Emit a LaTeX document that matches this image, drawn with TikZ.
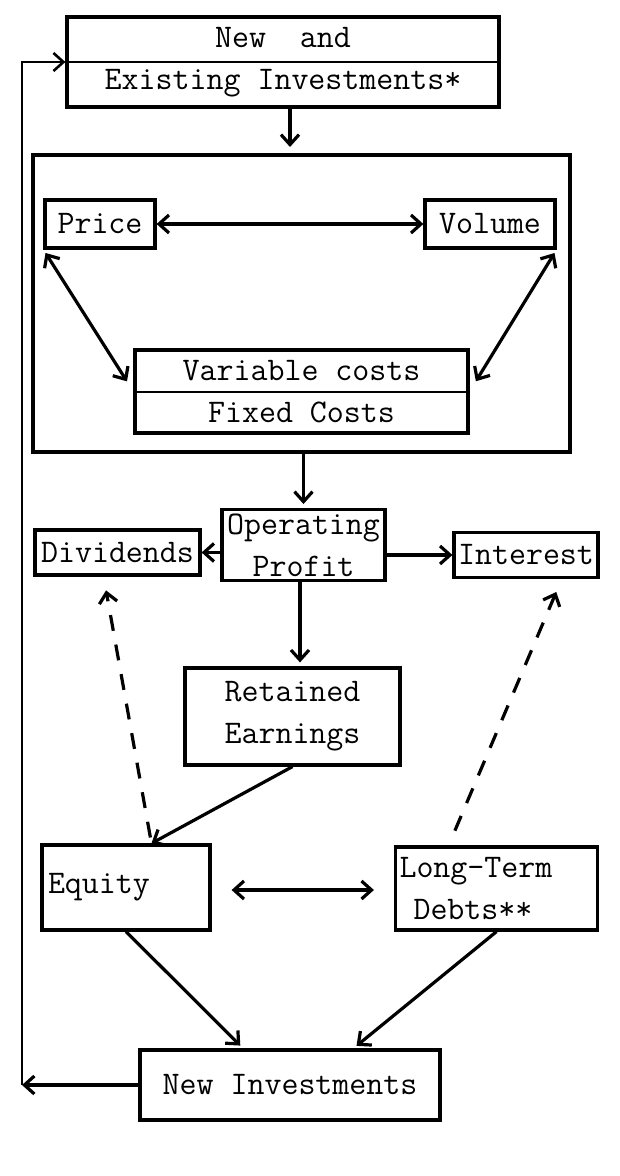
\documentclass[tikz,border=0pt]{standalone}
\usepackage{tikz}
\usetikzlibrary{arrows.meta}

\begin{document}
\begin{tikzpicture}[x=0.5pt,y=-0.5pt,line width=1.6pt,
  >={Straight Barb[length=5pt,width=9pt]},
  box/.style={draw,inner sep=2pt,font=\fontsize{16.5}{21}\selectfont\ttfamily},
  darr/.style={->,dash pattern=on 8pt off 7pt}]
\useasboundingbox (0,0) rectangle (620,1176);
% investimenti in alto
\node[box,minimum width=216pt,minimum height=45pt,align=center] (top) at (283,62) {New\ \ and\\Existing Investments*};
\draw[line width=1pt] (top.west) -- (top.east);
% blocco esterno
\node[box,minimum width=268.5pt,minimum height=148.5pt] (market) at (301.5,303.5) {};
\draw[->] (top.south -| 290,0) -- (290,147);
% prezzo e volume
\node[box,minimum width=55pt,minimum height=24pt] (price) at (100,224) {Price};
\node[box,minimum width=65pt,minimum height=24pt] (volume) at (490,224) {Volume};
\draw[<->] (price) -- (volume);
% costi
\node[box,minimum width=166.5pt,minimum height=41.5pt,align=center] (costs) at (301.5,391.5) {Variable costs\\Fixed Costs};
\draw[line width=1pt] (costs.west) -- (costs.east);
\draw[<->,shorten <=2pt,shorten >=6pt] (price.south west) -- (costs.west);
\draw[<->,shorten <=2pt,shorten >=6pt] (volume.south east) -- (costs.east);
% utile operativo
\node[box,minimum width=81.5pt,minimum height=35pt,align=center] (profit) at (303.5,545) {Operating\\Profit};
\draw[->,shorten >=2pt] (market.south -| profit) -- (profit.north);
% dividendi e interessi
\node[box,minimum width=82.5pt,minimum height=22.5pt] (dividends) at (117.5,552.5) {Dividends};
\node[box,minimum width=71.5pt,minimum height=22.5pt] (interest) at (526,555) {Interest};
\draw[->] (profit.west |- dividends) -- (dividends.east);
\draw[->] (profit.east |- interest) -- (interest.west);
% utili non distribuiti
\node[box,minimum width=107.5pt,minimum height=48.5pt,align=center] (retained) at (292.5,716.5) {Retained\\Earnings};
\draw[->,shorten >=2pt] (profit.south -| 300,0) -- (retained.north -| 300,0);
% capitale proprio e debiti
\node[box,text width=78pt,minimum height=42.5pt,inner xsep=3pt,align=left] (equity) at (126,887.5) {Equity};
\node[box,text width=97pt,minimum height=41.5pt,align=left] (debts) at (496.5,888.5) {Long-Term\\\hspace*{7pt}Debts**};
\draw[->] (retained.south) -- (equity.60);
\draw[<->,shorten <=10pt,shorten >=10pt] (equity.east |- 0,890) -- (debts.west |- 0,890);
\draw[darr,shorten <=3pt,shorten >=7pt] (equity.60) -- (dividends.240);
\draw[darr,shorten <=8pt,shorten >=7pt] (debts.138) -- (interest.326);
% nuovi investimenti
\node[box,minimum width=150pt,minimum height=35pt] (newinv) at (290,1085) {New Investments};
\draw[->,shorten >=2pt] (equity.south) -- (newinv.142);
\draw[->,shorten >=2pt] (debts.south) -- (newinv.30);
% ritorno
\coordinate (loopbot) at (22,1085);
\draw[->] (newinv.west) -- (loopbot);
\draw[->,line width=1.3pt] (loopbot) |- (top.west);
\end{tikzpicture}
\end{document}
